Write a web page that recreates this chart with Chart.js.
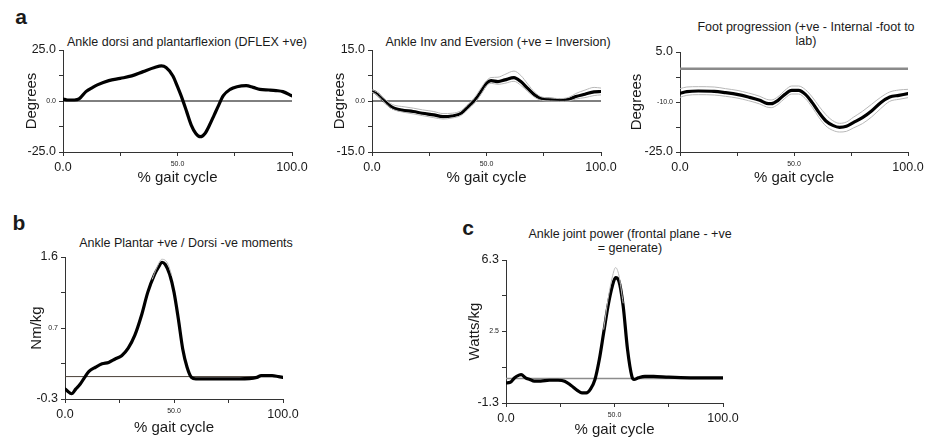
<!DOCTYPE html>
<html><head><meta charset="utf-8">
<script src="https://cdn.jsdelivr.net/npm/chart.js@4.4.1/dist/chart.umd.min.js"></script>
<style>
html,body{margin:0;padding:0;background:#fff;}
#wrap{position:relative;width:925px;height:443px;overflow:hidden;font-family:"Liberation Sans",Arial,sans-serif;color:#1a1a1a;}
canvas{position:absolute;left:0;top:0;}
.t{position:absolute;font-size:12.5px;white-space:nowrap;transform:translate(-50%,-50%);line-height:14px;text-align:center;}
.L{position:absolute;font-size:21px;font-weight:bold;transform:translate(-50%,-50%);}
</style></head><body>
<div id="wrap">
<div class="L" style="left:21px;top:17px">a</div>
<div class="L" style="left:19px;top:223px">b</div>
<div class="L" style="left:468px;top:228px">c</div>
<div class="t" style="left:187px;top:42px">Ankle dorsi and plantarflexion (DFLEX +ve)</div>
<div class="t" style="left:498px;top:42px">Ankle Inv and Eversion (+ve = Inversion)</div>
<div class="t" style="left:806px;top:34px">Foot progression (+ve - Internal -foot to<br>lab)</div>
<div class="t" style="left:186px;top:243px">Ankle Plantar +ve / Dorsi -ve moments</div>
<div class="t" style="left:630px;top:241px">Ankle joint power (frontal plane - +ve<br>= generate)</div>
<canvas id="a1" width="925" height="443"></canvas>
<canvas id="a2" width="925" height="443"></canvas>
<canvas id="a3" width="925" height="443"></canvas>
<canvas id="b" width="925" height="443"></canvas>
<canvas id="c" width="925" height="443"></canvas>
</div>
<script>
// ---- shared x axis ----
const xTicks = [0, 25, 50, 75, 100];
const xTickLabels = ['0.0', '', '50.0', '', '100.0'];

// ---- a1: ankle dorsi/plantarflexion ----
const a1X = [0,2,5,7,10,13,15,20,25,30,35,40,43,45,48,50,52,54,56,58,60,62,64,66,68,70,73,76,80,83,86,90,93,96,100];
const a1Y = [1.0,0.5,0.5,1.0,4.6,6.7,7.9,10.0,11.1,12.3,14.4,16.4,17.2,16.4,12.3,7.0,1.3,-5.2,-11.8,-15.9,-17.5,-15.9,-11.8,-6.9,-2.0,2.6,5.7,7.0,7.5,6.7,5.7,5.4,5.1,4.6,2.5];
const a1YTicks = [-25, -12.5, 0, 12.5, 25];
const a1YTickLabels = ['-25.0', '', '0.0', '', '25.0'];

// ---- a2: ankle inversion/eversion ----
const a2X = [0,2,5,8,10,13,18,22,27,31,35,39,42,45,48,50,52,55,58,62,65,68,71,74,78,82,86,89,93,97,100];
const a2Y = [3.0,2.3,0.3,-1.5,-2.2,-2.7,-3.1,-3.6,-4.1,-4.6,-4.4,-3.6,-1.7,0.3,3.2,5.2,6.0,5.7,6.2,6.9,5.7,3.7,1.8,0.7,0.5,0.3,0.5,1.3,2.0,2.7,2.8];
const a2Upper = [3.3,2.7,0.9,-0.7,-1.3,-1.6,-2.1,-2.6,-3.1,-3.7,-3.6,-2.8,-0.9,1.2,4.2,6.0,6.9,7.0,7.8,8.8,7.5,5.0,2.6,1.2,0.9,0.7,1.1,2.2,3.2,4.0,3.8];
const a2Lower = [2.6,1.9,-0.1,-2.0,-2.7,-3.2,-3.8,-4.3,-4.9,-5.3,-5.0,-4.2,-2.4,-0.4,2.4,4.5,5.2,4.9,5.2,5.8,4.6,2.8,1.1,0.2,0.0,-0.1,0.0,0.6,1.0,1.6,1.8];
const a2YTicks = [-15, -7.5, 0, 7.5, 15];
const a2YTickLabels = ['-15.0', '', '0.0', '', '15.0'];

// ---- a3: foot progression ----
const a3X = [0,3,8,15,20,25,30,35,38,40,43,46,49,52,55,58,61,64,67,70,73,76,80,84,88,92,96,100];
const a3Y = [-7.4,-6.9,-6.7,-6.8,-7.2,-7.7,-8.5,-9.5,-10.4,-10.5,-9.5,-7.7,-6.5,-6.5,-7.7,-10.2,-13.2,-15.7,-17.0,-17.6,-17.3,-16.2,-14.7,-12.7,-10.2,-8.5,-8.0,-7.5];
const a3Upper = [-6.0,-5.5,-5.4,-5.5,-6.0,-6.5,-7.3,-8.3,-9.2,-9.4,-8.4,-6.5,-5.2,-5.2,-6.3,-8.5,-11.3,-13.8,-15.6,-16.4,-16.0,-14.6,-12.8,-10.7,-8.6,-7.0,-6.4,-6.2];
const a3Lower = [-8.6,-8.0,-7.8,-7.9,-8.3,-8.8,-9.6,-10.6,-11.5,-11.7,-10.7,-8.9,-7.6,-7.6,-9.0,-11.6,-14.7,-17.2,-18.5,-19.0,-18.8,-17.8,-16.5,-14.5,-12.0,-9.8,-9.2,-8.7];
const a3YTicks = [-25, -17.5, -10, -2.5, 5];
const a3YTickLabels = ['-25.0', '', '-10.0', '', '5.0'];

// ---- b: ankle moments ----
const bX = [0,1,3,5,7,9,11,14,17,20,23,26,29,32,35,38,41,43,44.5,46,48,50,52,54,56,58,60,65,70,80,88,90,95,98,100];
const bY = [-0.165,-0.19,-0.23,-0.165,-0.1,-0.01,0.07,0.125,0.17,0.19,0.235,0.28,0.38,0.55,0.81,1.13,1.36,1.47,1.53,1.50,1.37,1.13,0.77,0.37,0.125,-0.01,-0.03,-0.03,-0.03,-0.03,-0.01,0.013,0.013,0.0,-0.01];
const bUpperX = [40,42,44.5,47,49];
const bUpper = [1.30,1.45,1.57,1.52,1.35];
const bYTicks = [-0.3, 0.175, 0.65, 1.125, 1.6];
const bYTickLabels = ['-0.3', '', '0.7', '', '1.6'];

// ---- c: ankle power ----
const cX = [0,2,4,6,7,9,11,13,16,20,24,27,30,33,35,37,39,41,43,45,47,49,50.5,52,54,56,58,59,61,64,68,75,85,100];
const cY = [-0.23,-0.2,0.04,0.18,0.21,0.04,-0.05,-0.14,-0.14,-0.09,-0.09,-0.14,-0.37,-0.64,-0.76,-0.76,-0.55,-0.05,1.01,2.43,3.85,4.92,5.36,5.19,3.85,1.55,0.12,-0.05,0.04,0.12,0.12,0.07,0.04,0.04];
const cUpperX = [45,47,49,50.5,52,54];
const cUpper = [2.6,4.2,5.4,5.9,5.5,4.0];
const cYTicks = [-1.3, 0.6, 2.5, 4.4, 6.3];
const cYTickLabels = ['-1.3', '', '2.5', '', '6.3'];

// ---------------------------------------------------------------
const FAM = '"Liberation Sans", Arial, sans-serif';
const pts = (xs, ys) => xs.map((x, i) => ({x: x, y: ys[i]}));

const zeroLine = {
  id: 'zeroLine',
  beforeDatasetsDraw(chart, args, opts) {
    const {ctx, chartArea} = chart;
    const y = chart.scales.y.getPixelForValue(0);
    ctx.save();
    ctx.strokeStyle = opts.color || '#000';
    ctx.lineWidth = opts.width || 1;
    ctx.beginPath();
    ctx.moveTo(chartArea.left, y);
    ctx.lineTo(chartArea.right, y);
    ctx.stroke();
    ctx.restore();
  }
};

function panel(id, p) {
  const TS = 15, lh = TS * 1.2;
  const padLeft = p.yTitleX - lh / 2;
  const wY = p.L - padLeft;
  const padBottom = 443 - (p.xTitleY + lh / 2);
  const hX = 443 - padBottom - p.B;
  const ds = [];
  (p.bands || []).forEach(b => ds.push({
    data: pts(b.x, b.y), borderColor: '#b8b8b8', borderWidth: 1,
    pointRadius: 0, cubicInterpolationMode: 'monotone', fill: false
  }));
  ds.push({
    data: pts(p.x, p.y), borderColor: '#000', borderWidth: 3.2,
    pointRadius: 0, cubicInterpolationMode: 'monotone', fill: false,
    borderCapStyle: 'round', borderJoinStyle: 'round'
  });
  const tickFont = ctx => ctx.index === 2 ? {family: FAM, size: 7} : {family: FAM, size: 12.5};
  new Chart(document.getElementById(id), {
    type: 'line',
    data: {datasets: ds},
    plugins: [zeroLine],
    options: {
      responsive: false, animation: false, devicePixelRatio: 1,
      layout: {padding: {left: padLeft, top: p.T, right: 925 - p.R, bottom: padBottom}},
      plugins: {legend: {display: false}, tooltip: {enabled: false},
        zeroLine: {color: p.zeroColor, width: p.zeroWidth}},
      scales: {
        x: {
          type: 'linear', min: 0, max: 100,
          afterBuildTicks: s => { s.ticks = xTicks.map(v => ({value: v})); },
          afterFit: s => { s.height = hX; s.paddingLeft = 0; s.paddingRight = 0; },
          ticks: {callback: (v, i) => xTickLabels[i], font: tickFont, color: '#1a1a1a',
            padding: 4, maxRotation: 0, autoSkip: false},
          grid: {display: true, drawOnChartArea: false, drawTicks: true, tickLength: 4, color: '#333'},
          border: {display: true, color: '#333', width: 1},
          title: {display: true, text: '% gait cycle', font: {family: FAM, size: TS},
            color: '#1a1a1a', padding: {top: 0, bottom: 0}}
        },
        y: {
          type: 'linear', min: p.yTicks[0], max: p.yTicks[p.yTicks.length - 1],
          afterBuildTicks: s => { s.ticks = p.yTicks.map(v => ({value: v})); },
          afterFit: s => { s.width = wY; s.paddingTop = 0; s.paddingBottom = 0; },
          ticks: {callback: (v, i) => p.yLabels[i], font: tickFont, color: '#1a1a1a',
            padding: 3, autoSkip: false},
          grid: {display: true, drawOnChartArea: false, drawTicks: true, tickLength: 4, color: '#333'},
          border: {display: true, color: '#333', width: 1},
          title: {display: true, text: p.yTitle, font: {family: FAM, size: TS},
            color: '#1a1a1a', padding: {top: 0, bottom: 0}}
        }
      }
    }
  });
}

panel('a1', {L: 63, R: 292, T: 50, B: 152, yTitleX: 32, xTitleY: 178,
  x: a1X, y: a1Y, yTicks: a1YTicks, yLabels: a1YTickLabels, yTitle: 'Degrees',
  zeroColor: '#000', zeroWidth: 1});
panel('a2', {L: 372, R: 601, T: 50, B: 152, yTitleX: 340, xTitleY: 178,
  x: a2X, y: a2Y, yTicks: a2YTicks, yLabels: a2YTickLabels, yTitle: 'Degrees',
  zeroColor: '#000', zeroWidth: 1,
  bands: [{x: a2X, y: a2Upper}, {x: a2X, y: a2Lower}]});
panel('a3', {L: 680, R: 908, T: 52, B: 152, yTitleX: 637, xTitleY: 178,
  x: a3X, y: a3Y, yTicks: a3YTicks, yLabels: a3YTickLabels, yTitle: 'Degrees',
  zeroColor: '#8a8a8a', zeroWidth: 2.5,
  bands: [{x: a3X, y: a3Upper}, {x: a3X, y: a3Lower}]});
panel('b', {L: 65, R: 283, T: 257, B: 399, yTitleX: 37, xTitleY: 428,
  x: bX, y: bY, yTicks: bYTicks, yLabels: bYTickLabels, yTitle: 'Nm/kg',
  zeroColor: '#4a4038', zeroWidth: 1,
  bands: [{x: bUpperX, y: bUpper}]});
panel('c', {L: 506, R: 723, T: 260, B: 403, yTitleX: 475, xTitleY: 430,
  x: cX, y: cY, yTicks: cYTicks, yLabels: cYTickLabels, yTitle: 'Watts/kg',
  zeroColor: '#8c8c8c', zeroWidth: 1.5,
  bands: [{x: cUpperX, y: cUpper}]});
</script>
</body></html>
